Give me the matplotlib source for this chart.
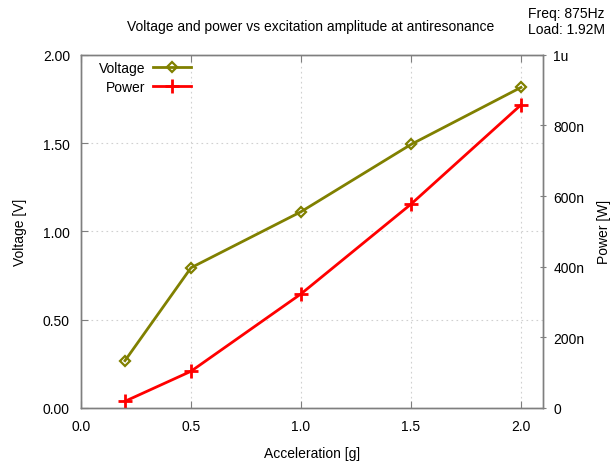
import matplotlib
matplotlib.use("Agg")
import matplotlib.pyplot as plt

plt.rcParams['font.family'] = ['Liberation Sans', 'DejaVu Sans']

accel = [0.2, 0.5, 1.0, 1.5, 2.0]
voltage = [0.268, 0.794, 1.111, 1.492, 1.815]
power = [19e-9, 104e-9, 323e-9, 577e-9, 858e-9]

x_ticks = [0.0, 0.5, 1.0, 1.5, 2.0]
v_ticks = [0.0, 0.5, 1.0, 1.5, 2.0]
p_ticks = [0, 200e-9, 400e-9, 600e-9, 800e-9, 1e-6]
p_labels = ['0', '200n', '400n', '600n', '800n', '1u']

olive = '#808000'
red = '#ff0000'
border = '#7f7f7f'
fs = 10

fig = plt.figure(figsize=(6.15, 4.64), dpi=100)
ax = fig.add_axes([81/615, 1 - 409/464, (543-81)/615, (409-55.7)/464])
ax2 = ax.twinx()

lv, = ax.plot(accel, voltage, color=olive, lw=2, marker='D', ms=5,
              mfc='none', mec=olive, mew=1.6, label='Voltage')
lp, = ax2.plot(accel, power, color=red, lw=2, marker='+', ms=10,
               mew=2, label='Power')

ax.set_xlim(0, 2.1)
ax.set_ylim(0, 2.0)
ax2.set_ylim(0, 1e-6)
ax.set_xticks(x_ticks)
ax.set_xticklabels([f'{v:.1f}' for v in x_ticks])
ax.set_yticks(v_ticks)
ax.set_yticklabels([f'{v:.2f}' for v in v_ticks])
ax2.set_yticks(p_ticks)
ax2.set_yticklabels(p_labels)

ax.grid(True, color='#d0d0d0', linestyle=(0, (1.5, 3)), linewidth=0.8)
ax.set_axisbelow(True)

for a in (ax, ax2):
    for s in a.spines.values():
        s.set_color(border)
        s.set_linewidth(1)

ax.tick_params(axis='x', direction='in', length=5, color=border,
               labelsize=fs, top=True, pad=8)
ax.tick_params(axis='y', direction='in', length=5, color=border,
               labelsize=fs, pad=8)
ax2.tick_params(axis='y', direction='inout', length=5, color=border,
                labelsize=fs, pad=5)

ax.set_xlabel('Acceleration [g]', fontsize=fs, labelpad=9)
ax.set_ylabel('Voltage [V]', fontsize=fs, labelpad=11)
ax2.set_ylabel('Power [W]', fontsize=fs, labelpad=9)

fig.text(311/615, 1 - 27/464, 'Voltage and power vs excitation amplitude at antiresonance',
         ha='center', va='center', fontsize=fs)
fig.text(605/615, 1 - 22/464, 'Freq: 875Hz\nLoad: 1.92M', ha='right', va='center',
         fontsize=fs, linespacing=1.15)

leg = ax.legend([lv, lp], ['Voltage', 'Power'], loc='upper left',
                bbox_to_anchor=(0.017, 1.01), frameon=False, markerfirst=False,
                fontsize=fs, handlelength=2.7, handletextpad=0.6,
                labelspacing=0.35, borderaxespad=0.3)
for t in leg.get_texts():
    t.set_ha('right')
leg._legend_box.align = 'right'

fig.savefig('out.png', dpi=100)
